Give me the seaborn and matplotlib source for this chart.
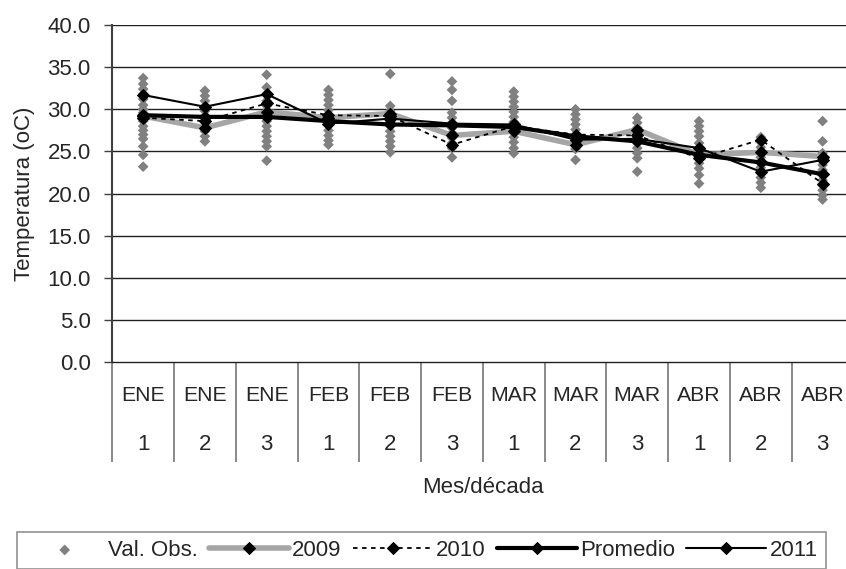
import matplotlib

matplotlib.use("Agg")
import matplotlib.pyplot as plt
import numpy as np
import pandas as pd
import seaborn as sns

# categories (month / ten-day period)
months = ["ENE", "ENE", "ENE", "FEB", "FEB", "FEB", "MAR", "MAR", "MAR", "ABR", "ABR", "ABR"]
decades = ["1", "2", "3", "1", "2", "3", "1", "2", "3", "1", "2", "3"]

obs_values = [
    [33.7, 33.0, 32.4, 31.8, 31.2, 30.5, 30.0, 29.6, 29.0, 28.6, 28.0, 27.5, 27.0, 26.5, 25.6, 24.6, 23.2],
    [32.2, 31.6, 31.0, 30.4, 29.8, 29.2, 28.6, 28.0, 27.4, 26.8, 26.2],
    [34.1, 32.6, 31.8, 31.0, 30.4, 29.8, 29.2, 28.6, 28.0, 27.4, 26.8, 26.2, 25.6, 23.9],
    [32.3, 31.7, 31.1, 30.5, 29.9, 29.3, 28.7, 28.1, 27.5, 26.9, 26.3, 25.8],
    [34.2, 30.4, 29.8, 29.2, 28.6, 28.0, 27.4, 26.8, 26.2, 25.6, 24.9],
    [33.3, 32.3, 31.0, 29.6, 29.0, 28.4, 27.8, 27.2, 26.6, 26.0, 25.4, 24.3],
    [32.1, 31.5, 30.9, 30.3, 29.7, 29.1, 28.5, 27.9, 27.3, 26.7, 26.1, 25.4, 24.8],
    [30.0, 29.4, 28.8, 28.2, 27.6, 27.0, 26.4, 25.8, 25.3, 24.0],
    [29.0, 28.4, 27.8, 27.2, 26.6, 26.0, 25.4, 24.8, 24.2, 22.6],
    [28.6, 28.0, 27.4, 26.8, 26.0, 25.2, 24.4, 23.6, 23.0, 22.2, 21.2],
    [26.7, 26.1, 25.5, 24.9, 24.3, 23.7, 23.1, 22.5, 21.9, 21.3, 20.7],
    [28.6, 26.2, 24.8, 24.0, 23.4, 22.8, 22.2, 21.6, 21.0, 20.4, 19.8, 19.3],
]

t2009 = [29.2, 27.8, 29.7, 29.0, 29.5, 26.9, 27.4, 25.8, 27.6, 24.6, 24.9, 24.4]
t2010 = [29.0, 28.6, 30.7, 29.3, 29.2, 25.8, 28.0, 27.0, 26.9, 24.2, 26.4, 21.2]
promedio = [29.3, 29.1, 29.1, 28.6, 28.2, 28.1, 27.9, 26.8, 26.2, 24.6, 23.7, 22.3]
t2011 = [31.7, 30.3, 31.8, 28.3, 28.9, 28.3, 28.2, 26.4, 26.5, 25.4, 22.6, 24.0]

sns.set_theme(style="white")
plt.rcParams["font.family"] = ["Liberation Sans", "DejaVu Sans"]
FS = 16

xpos = np.arange(len(months))
obs_df = pd.DataFrame(
    [(i, v) for i, vals in enumerate(obs_values) for v in vals], columns=["pos", "temp"]
)

fig = plt.figure(figsize=(8.46, 5.69), dpi=100)
# plot area runs past the right edge of the picture, as in the original crop
ax = fig.add_axes([0.1327, 0.3633, 0.8761, 0.5928])

# horizontal gridlines
for yv in np.arange(5, 45, 5):
    ax.axhline(yv, color="#202020", lw=1.0, zorder=0)

sns.scatterplot(data=obs_df, x="pos", y="temp", marker="D", s=30, color="#808080",
                edgecolor="none", label="Val. Obs.", ax=ax, zorder=2)

line_kw = dict(marker="D", markersize=6.5, markerfacecolor="black", markeredgecolor="black")
sns.lineplot(x=xpos, y=t2009, color="#a6a6a6", lw=4, label="2009", ax=ax, zorder=3, **line_kw)
sns.lineplot(x=xpos, y=t2010, color="black", lw=1.3, linestyle=(0, (2.5, 2.5)), label="2010",
             ax=ax, zorder=4, **line_kw)
sns.lineplot(x=xpos, y=promedio, color="black", lw=3, label="Promedio", ax=ax, zorder=5, **line_kw)
sns.lineplot(x=xpos, y=t2011, color="black", lw=1.5, label="2011", ax=ax, zorder=6, **line_kw)

ax.set_xlim(-0.5, len(months) - 0.5)
ax.set_ylim(0, 40)
ax.set_yticks(np.arange(0, 45, 5))
ax.set_yticklabels([f"{v:.1f}" for v in np.arange(0, 45, 5)], fontsize=FS)
ax.tick_params(axis="y", left=True, length=6, width=1, color="#404040", pad=9.5)
ax.set_xticks([])
ax.set_xlabel("")

for side in ["top", "right"]:
    ax.spines[side].set_visible(False)
ax.spines["left"].set_color("#404040")
ax.spines["left"].set_linewidth(1.5)
ax.spines["bottom"].set_color("#202020")
ax.spines["bottom"].set_linewidth(1.0)

# two-level category axis below the plot
trans = ax.get_xaxis_transform()
ax.vlines(np.arange(-0.5, len(months) + 0.5), -0.295, 0, transform=trans, color="#808080",
          lw=1.3, clip_on=False)
for i in xpos:
    ax.text(i, -0.097, months[i], transform=trans, ha="center", va="center", fontsize=FS - 0.7)
    ax.text(i, -0.245, decades[i], transform=trans, ha="center", va="center", fontsize=FS)

ax.text(5.5, -0.37, "Mes/década", transform=trans, ha="center", va="center", fontsize=FS)

ax.set_ylabel("Temperatura (oC)", fontsize=FS)
ax.yaxis.set_label_coords(-0.104, 0.5)

handles, labels = ax.get_legend_handles_labels()
ax.get_legend().remove()
leg = fig.legend(handles, labels, loc="upper left", bbox_to_anchor=(0.02, 0.065), ncol=5,
                 fontsize=FS, frameon=True, fancybox=False, edgecolor="#808080",
                 handlelength=3.6, handletextpad=0.15, columnspacing=0.5, borderpad=0.35,
                 borderaxespad=0)
leg.get_frame().set_linewidth(1.3)

fig.savefig("out.png", dpi=100)
